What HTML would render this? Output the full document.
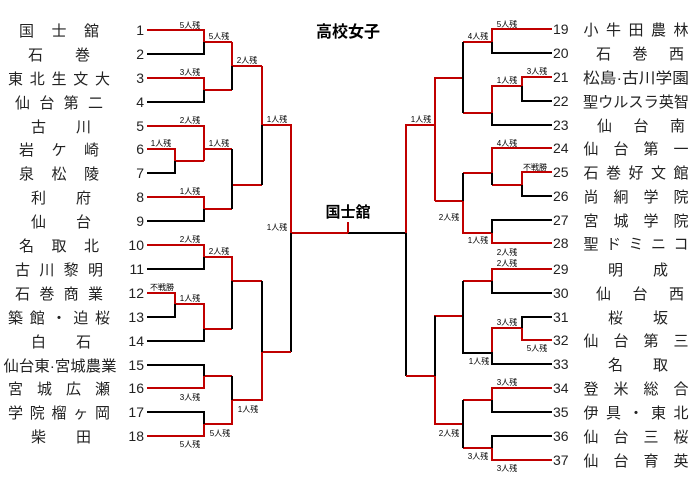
<!DOCTYPE html>
<html><head><meta charset="utf-8"><style>
html,body{margin:0;padding:0;background:#fff;}
svg{display:block;}
.n{font-family:"Liberation Sans","Noto Sans CJK JP",sans-serif;font-size:15px;fill:#222;}
.num{font-family:"Liberation Sans",sans-serif;font-size:14px;fill:#222;}
.l{font-family:"Liberation Sans","Noto Sans CJK JP",sans-serif;font-size:8px;fill:#000;text-anchor:middle;}
.r{stroke:#c00000;stroke-width:2;fill:none;}
.b{stroke:#000;stroke-width:2;fill:none;}
</style></head><body>
<svg width="699" height="479" viewBox="0 0 699 479" xmlns="http://www.w3.org/2000/svg">
<text x="348" y="37" text-anchor="middle" font-family="Liberation Sans,Noto Sans CJK JP,sans-serif" font-size="16" font-weight="bold">高校女子</text>
<text x="348" y="217" text-anchor="middle" font-family="Liberation Sans,Noto Sans CJK JP,sans-serif" font-size="15" font-weight="bold">国士舘</text>

<g class="n" text-anchor="middle">
<text x="59" y="36" textLength="80" lengthAdjust="spacing">国士舘</text>
<text x="59" y="60" textLength="62" lengthAdjust="spacing">石巻</text>
<text x="59" y="84" textLength="102" lengthAdjust="spacing">東北生文大</text>
<text x="59" y="108" textLength="88" lengthAdjust="spacing">仙台第二</text>
<text x="61" y="132" textLength="60" lengthAdjust="spacing">古川</text>
<text x="59" y="155" textLength="80" lengthAdjust="spacing">岩ケ崎</text>
<text x="59" y="179" textLength="80" lengthAdjust="spacing">泉松陵</text>
<text x="61" y="203" textLength="60" lengthAdjust="spacing">利府</text>
<text x="61" y="227" textLength="60" lengthAdjust="spacing">仙台</text>
<text x="59" y="251" textLength="80" lengthAdjust="spacing">名取北</text>
<text x="59" y="275" textLength="88" lengthAdjust="spacing">古川黎明</text>
<text x="59" y="299" textLength="88" lengthAdjust="spacing">石巻商業</text>
<text x="59" y="323" textLength="102" lengthAdjust="spacing">築館・迫桜</text>
<text x="61" y="347" textLength="60" lengthAdjust="spacing">白石</text>
<text x="60" y="371" textLength="113" lengthAdjust="spacingAndGlyphs">仙台東·宮城農業</text>
<text x="59" y="394" textLength="102" lengthAdjust="spacing">宮城広瀬</text>
<text x="59" y="418" textLength="102" lengthAdjust="spacing">学院榴ヶ岡</text>
<text x="61" y="442" textLength="60" lengthAdjust="spacing">柴田</text>
</g>
<g class="num" text-anchor="end">
<text x="144" y="35">1</text><text x="144" y="59">2</text><text x="144" y="83">3</text><text x="144" y="107">4</text>
<text x="144" y="131">5</text><text x="144" y="154">6</text><text x="144" y="178">7</text><text x="144" y="202">8</text>
<text x="144" y="226">9</text><text x="144" y="250">10</text><text x="144" y="274">11</text><text x="144" y="298">12</text>
<text x="144" y="322">13</text><text x="144" y="346">14</text><text x="144" y="370">15</text><text x="144" y="393">16</text>
<text x="144" y="417">17</text><text x="144" y="441">18</text>
</g>
<g class="n" text-anchor="middle">
<text x="636" y="35" textLength="105" lengthAdjust="spacing">小牛田農林</text>
<text x="640" y="59" textLength="88" lengthAdjust="spacing">石巻西</text>
<text x="636" y="83" textLength="106" lengthAdjust="spacingAndGlyphs">松島·古川学園</text>
<text x="636" y="107" textLength="106" lengthAdjust="spacingAndGlyphs">聖ウルスラ英智</text>
<text x="641" y="131" textLength="88" lengthAdjust="spacing">仙台南</text>
<text x="636" y="154" textLength="105" lengthAdjust="spacing">仙台第一</text>
<text x="636" y="178" textLength="105" lengthAdjust="spacing">石巻好文館</text>
<text x="636" y="202" textLength="105" lengthAdjust="spacing">尚絅学院</text>
<text x="636" y="226" textLength="105" lengthAdjust="spacing">宮城学院</text>
<text x="636" y="249" textLength="105" lengthAdjust="spacing">聖ドミニコ</text>
<text x="638" y="275" textLength="60" lengthAdjust="spacing">明成</text>
<text x="640" y="299" textLength="88" lengthAdjust="spacing">仙台西</text>
<text x="638" y="323" textLength="60" lengthAdjust="spacing">桜坂</text>
<text x="636" y="346" textLength="105" lengthAdjust="spacing">仙台第三</text>
<text x="638" y="370" textLength="60" lengthAdjust="spacing">名取</text>
<text x="636" y="394" textLength="105" lengthAdjust="spacing">登米総合</text>
<text x="636" y="418" textLength="105" lengthAdjust="spacing">伊具・東北</text>
<text x="636" y="442" textLength="105" lengthAdjust="spacing">仙台三桜</text>
<text x="636" y="466" textLength="105" lengthAdjust="spacing">仙台育英</text>
</g>
<g class="num">
<text x="553" y="34">19</text><text x="553" y="58">20</text><text x="553" y="82">21</text><text x="553" y="106">22</text>
<text x="553" y="130">23</text><text x="553" y="153">24</text><text x="553" y="177">25</text><text x="553" y="201">26</text>
<text x="553" y="225">27</text><text x="553" y="248">28</text><text x="553" y="274">29</text><text x="553" y="298">30</text>
<text x="553" y="322">31</text><text x="553" y="345">32</text><text x="553" y="369">33</text><text x="553" y="393">34</text>
<text x="553" y="417">35</text><text x="553" y="441">36</text><text x="553" y="465">37</text>
</g>

<path class="r" d="M147 30H204V42M204 42H232M147 78H204V90H232M232 42V66H262M147 126H204V161M147 149H175V161H204M204 149H232M147 197H204V209H232M232 185H262M262 66V125H291V233H348"/>
<path class="b" d="M147 54H204V42M147 102H204V90M232 66V90M147 173H175V161M232 149V209M147 221H204V209M262 125V185M291 233V352"/>
<path class="r" d="M147 245H204V257H232V281H262M147 293H175V304H204V329H232M147 388H204V376H232M147 436H204V424H232V400H262V352H291"/>
<path class="b" d="M147 269H204V257M147 317H175V304M147 341H204V329M232 281V329M147 365H204V376M147 412H204V424M232 376V400M262 281V352"/>
<path class="b" d="M348 233H406V376"/>
<path class="r" d="M348 222V233"/>

<path class="r" d="M552 29H492V42H463M552 77H522V86H492V113H463M463 78H435V201M435 125H406V233M552 148H492V173H463M552 172H522V185H492M552 243H492V233H463V201H435"/>
<path class="b" d="M552 53H492V42M552 101H522V86M552 125H492V113M463 42V113M552 196H522V185M492 173V185M552 220H492V233M463 173V201"/>
<path class="r" d="M552 269H492V281H463M552 340H522V328H492V353M463 316H435V376H406M552 388H492V400H463M552 460H492V448H463M463 424H435V376"/>
<path class="b" d="M552 293H492V281M552 317H522V328M552 364H492V353H463V281M552 412H492V400M552 436H492V448M463 400V448M435 316V376"/>

<g class="l">
<text x="190" y="28">5人残</text><text x="219" y="39">5人残</text><text x="247" y="63">2人残</text>
<text x="190" y="75">3人残</text><text x="190" y="123">2人残</text><text x="161" y="146">1人残</text>
<text x="219" y="146">1人残</text><text x="190" y="194">1人残</text><text x="277" y="122">1人残</text>
<text x="277" y="230">1人残</text><text x="190" y="242">2人残</text><text x="219" y="254">2人残</text>
<text x="162" y="290">不戦勝</text><text x="190" y="301">1人残</text><text x="190" y="400">3人残</text>
<text x="248" y="412">1人残</text><text x="220" y="436">5人残</text><text x="190" y="447">5人残</text>
<text x="507" y="27">5人残</text><text x="478" y="39">4人残</text><text x="537" y="74">3人残</text>
<text x="507" y="83">1人残</text><text x="421" y="122">1人残</text><text x="507" y="146">4人残</text>
<text x="535" y="170">不戦勝</text><text x="449" y="220">2人残</text><text x="478" y="243">1人残</text>
<text x="507" y="255">2人残</text><text x="507" y="266">2人残</text><text x="507" y="325">3人残</text>
<text x="537" y="351">5人残</text><text x="479" y="364">1人残</text><text x="507" y="385">3人残</text>
<text x="449" y="436">2人残</text><text x="478" y="459">3人残</text><text x="507" y="471">3人残</text>
</g>
</svg>
</body></html>
